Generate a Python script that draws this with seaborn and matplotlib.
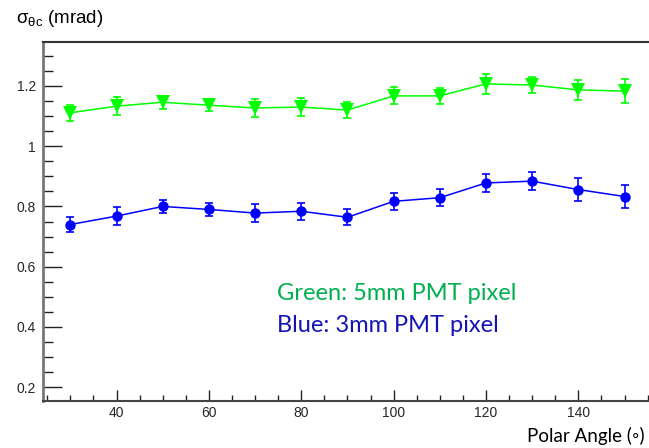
import matplotlib
matplotlib.use("Agg")
import matplotlib.pyplot as plt
from matplotlib.ticker import MultipleLocator
import numpy as np
import pandas as pd
import seaborn as sns

# Resolution vs polar angle for two PMT pixel sizes
angles = [30, 40, 50, 60, 70, 80, 90, 100, 110, 120, 130, 140, 150]
green_sigma = [1.111, 1.133, 1.146, 1.136, 1.127, 1.130, 1.120, 1.167, 1.167, 1.207, 1.203, 1.187, 1.183]
green_err = [0.026, 0.029, 0.021, 0.019, 0.030, 0.029, 0.027, 0.028, 0.026, 0.032, 0.026, 0.033, 0.039]
blue_sigma = [0.740, 0.768, 0.800, 0.790, 0.778, 0.784, 0.764, 0.817, 0.829, 0.878, 0.884, 0.856, 0.833]
blue_err = [0.026, 0.029, 0.023, 0.021, 0.029, 0.029, 0.027, 0.028, 0.028, 0.030, 0.029, 0.037, 0.037]

x_ticks = [40, 60, 80, 100, 120, 140]
y_ticks = [0.2, 0.4, 0.6, 0.8, 1.0, 1.2]
y_tick_labels = ["0.2", "0.4", "0.6", "0.8", "1", "1.2"]

sns.set_theme(style="white")
plt.rcParams["font.family"] = ["Liberation Sans", "DejaVu Sans"]
plt.rcParams["mathtext.fontset"] = "custom"
plt.rcParams["mathtext.rm"] = "Liberation Sans"
plt.rcParams["mathtext.it"] = "Liberation Sans"

W, H = 649, 448
fig = plt.figure(figsize=(W / 100, H / 100), dpi=100)
ax = fig.add_axes([42.7 / W, (H - 400.7) / H, (W - 42.7) / W, (400.7 - 41.7) / H])

df = pd.DataFrame({
    "angle": angles * 2,
    "sigma": green_sigma + blue_sigma,
    "pixel": ["5mm"] * len(angles) + ["3mm"] * len(angles),
})
palette = {"5mm": "#00FF00", "3mm": "#0000FF"}

for label, err, marker, ms in [("5mm", green_err, "v", 9.5), ("3mm", blue_err, "o", 7.5)]:
    sub = df[df["pixel"] == label]
    ax.errorbar(sub["angle"], sub["sigma"], yerr=err, fmt="none",
                ecolor=palette[label], elinewidth=1.2, capsize=3, capthick=1.2, zorder=2)
    sns.lineplot(data=sub, x="angle", y="sigma", ax=ax, color=palette[label],
                 marker=marker, markersize=ms, markeredgewidth=0, linewidth=1.1,
                 legend=False, zorder=3)

ax.set_xlim(24, 155.3)
ax.set_ylim(0.155, 1.347)
ax.set_xticks(x_ticks)
ax.set_yticks(y_ticks)
ax.set_yticklabels(y_tick_labels)
ax.xaxis.set_minor_locator(MultipleLocator(5))
ax.yaxis.set_minor_locator(MultipleLocator(0.05))
ax.tick_params(axis="x", which="major", direction="in", length=8, width=1, color="#222222",
               labelsize=10, pad=4, bottom=True, top=False)
ax.tick_params(axis="x", which="minor", direction="in", length=4.5, width=1, color="#222222",
               bottom=True, top=False)
ax.tick_params(axis="y", which="major", direction="in", length=14, width=1, color="#222222",
               labelsize=10, pad=5, left=True, right=False)
ax.tick_params(axis="y", which="minor", direction="in", length=7, width=1, color="#222222",
               left=True, right=False)
ax.set_xlabel("")
ax.set_ylabel("")

for side in ["left", "bottom", "top"]:
    ax.spines[side].set_visible(True)
ax.spines["right"].set_visible(False)
ax.spines["left"].set_color("#777777")
ax.spines["left"].set_linewidth(2)
ax.spines["bottom"].set_color("#444444")
ax.spines["bottom"].set_linewidth(1.5)
ax.spines["top"].set_color("#333333")
ax.spines["top"].set_linewidth(1.5)

fig.text(16 / W, 1 - 23 / H, r"$\mathregular{\sigma_{\theta c}}$ (mrad)", fontsize=13.5,
         ha="left", va="baseline", color="black")
fig.text(645 / W, 1 - 442 / H, "Polar Angle (\u25e6)", fontsize=13.5, ha="right",
         va="baseline", family=["Lato", "DejaVu Sans"], color="black")

fig.text(277 / W, 1 - 300 / H, "Green: 5mm PMT pixel", fontsize=17, ha="left",
         va="baseline", family=["Lato", "DejaVu Sans"], color="#00B050")
fig.text(277 / W, 1 - 332 / H, "Blue: 3mm PMT pixel", fontsize=17, ha="left",
         va="baseline", family=["Lato", "DejaVu Sans"], color="#1414B4")

fig.savefig("out.png", dpi=100)
